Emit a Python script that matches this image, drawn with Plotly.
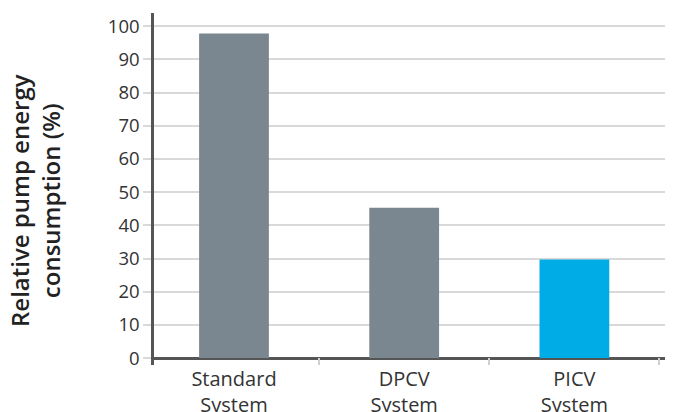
import plotly.graph_objects as go

categories = ["Standard<br>System", "DPCV<br>System", "PICV<br>System"]
values = [97.8, 45.3, 29.7]
bar_colors = ["#7b8790", "#7b8790", "#00ace6"]

fig = go.Figure(go.Bar(
    x=categories,
    y=values,
    marker=dict(color=bar_colors, line=dict(width=0)),
    width=0.41,
))

fig.update_layout(
    width=673, height=412,
    margin=dict(l=146, r=13, t=5, b=55),
    plot_bgcolor="white",
    paper_bgcolor="white",
    font=dict(family="Open Sans", size=18, color="#333333"),
    showlegend=False,
)

fig.update_xaxes(
    range=[-0.47, 2.55],
    tickson="boundaries",
    ticks="inside",
    ticklen=7,
    tickcolor="#cfcfcf",
    tickwidth=1.5,
    showgrid=False,
    showline=False,
    automargin=False,
    tickfont=dict(size=20, color="#333333"),
)

fig.update_yaxes(
    range=[-2.1, 104],
    tickvals=[0, 10, 20, 30, 40, 50, 60, 70, 80, 90, 100],
    showgrid=True,
    gridcolor="#d9d9d9",
    gridwidth=1.5,
    ticks="outside",
    ticklen=8,
    tickcolor="#d9d9d9",
    tickwidth=1.5,
    showline=True,
    linecolor="#555555",
    linewidth=2.5,
    zeroline=True,
    zerolinecolor="#555555",
    zerolinewidth=2.5,
    automargin=False,
    tickfont=dict(size=18.5, color="#333333"),
)

fig.add_annotation(
    text="Relative pump energy<br>consumption (%)",
    xref="paper", yref="paper",
    x=-0.2315, y=0.466,
    xanchor="center", yanchor="middle",
    textangle=-90,
    showarrow=False,
    font=dict(size=24, color="#222222", weight=600),
)

fig.write_html("out.html")
